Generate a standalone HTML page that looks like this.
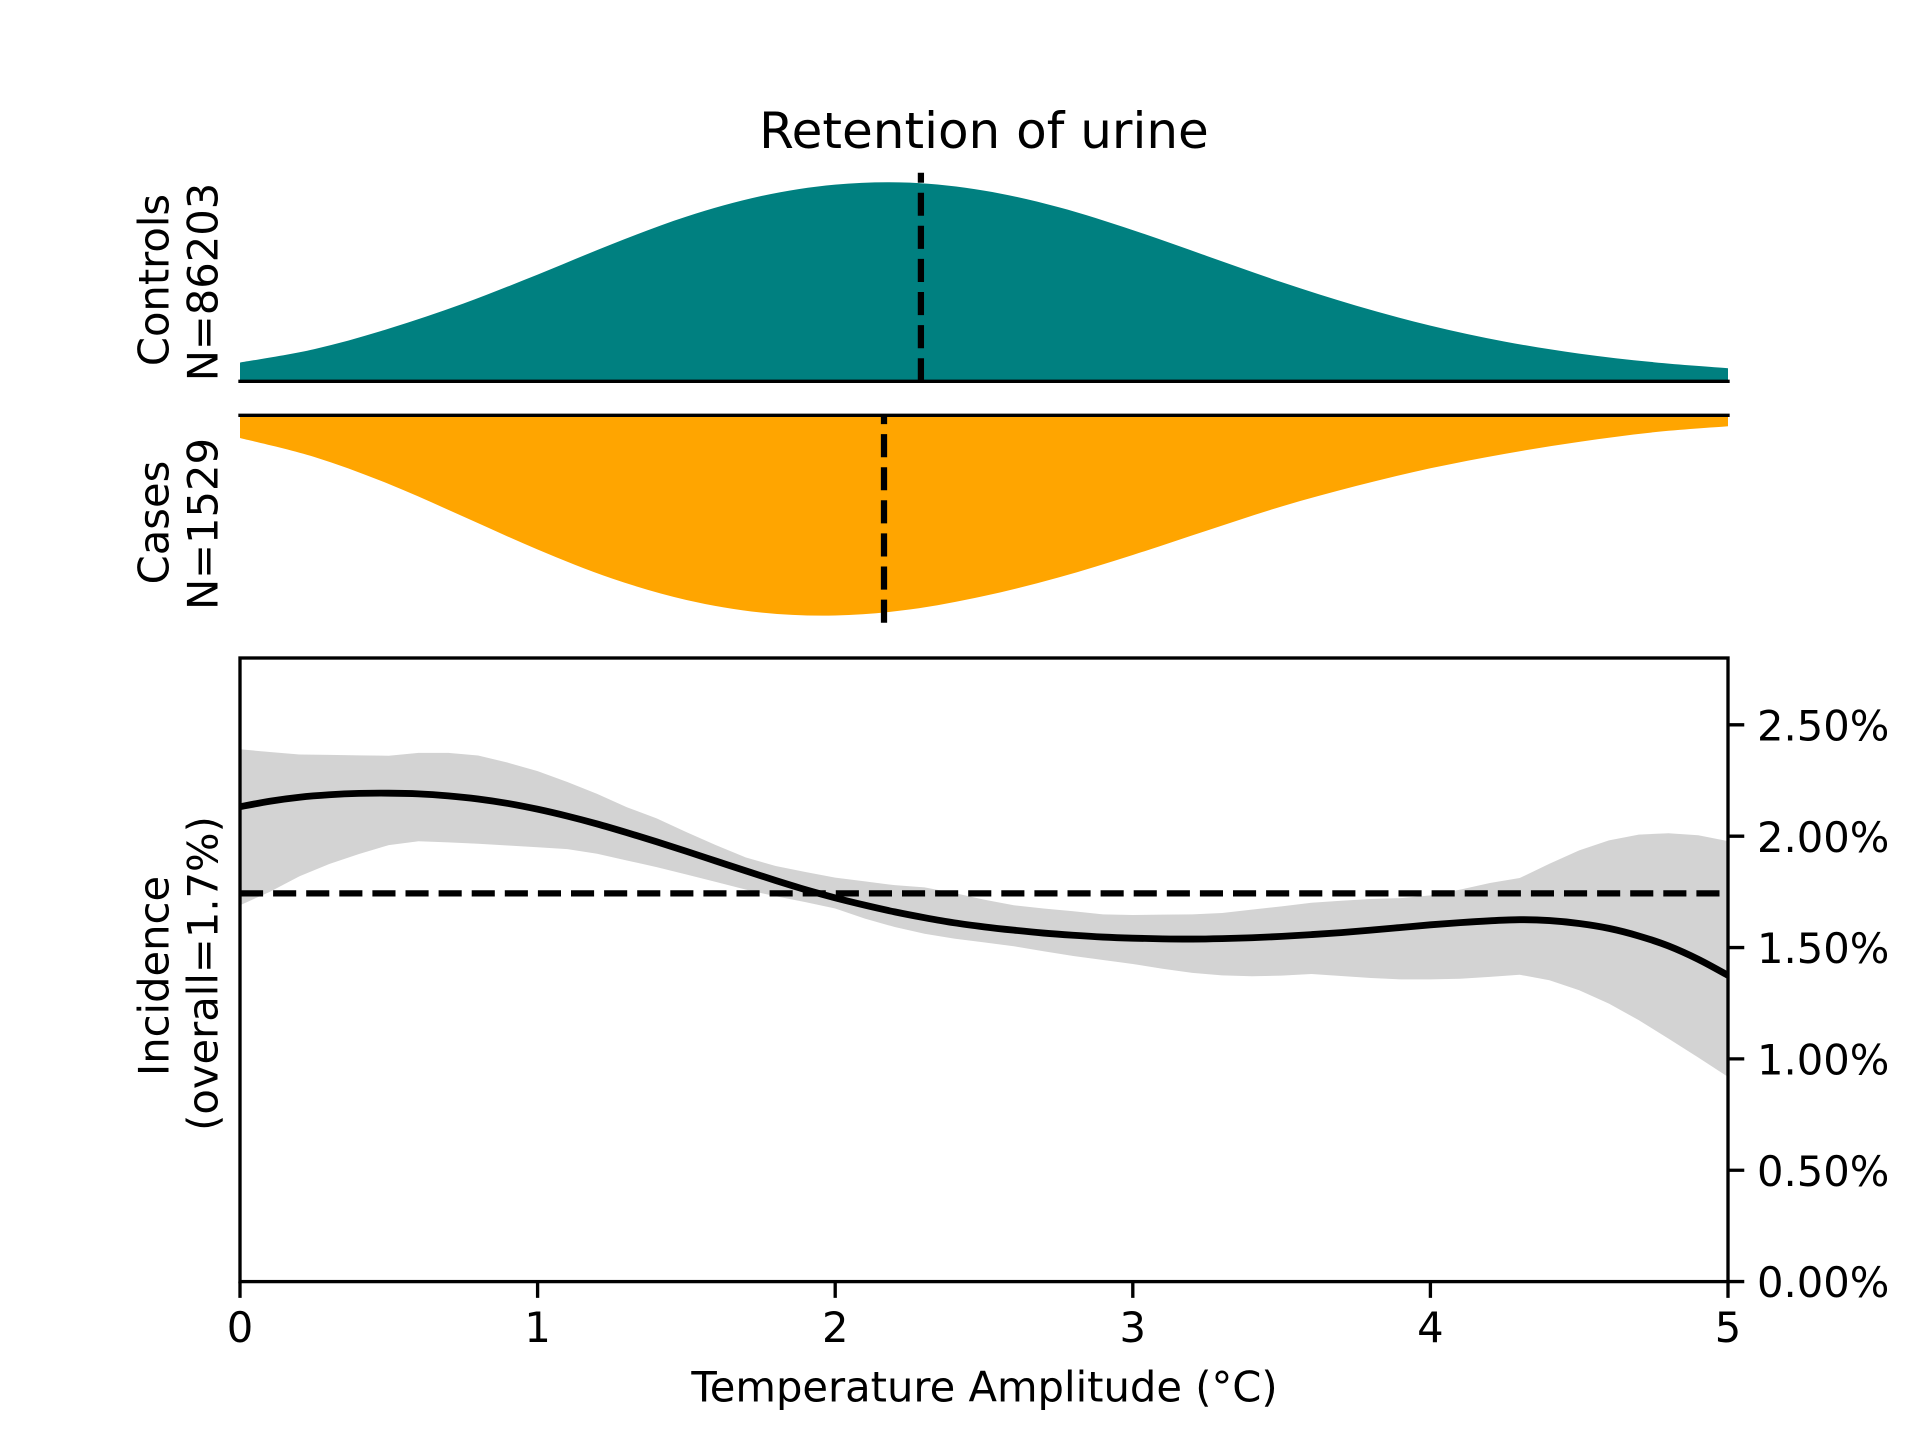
<!DOCTYPE html>
<html lang="en">
<head>
<meta charset="utf-8">
<title>Retention of urine</title>
<style>
html,body{margin:0;padding:0;background:#fff;width:1920px;height:1440px;overflow:hidden}
svg{display:block}
text{font-family:"DejaVu Sans",sans-serif;fill:#000}
</style>
</head>
<body>
<svg id="chart" xmlns="http://www.w3.org/2000/svg" width="1920" height="1440" viewBox="0 0 1920 1440">
  <defs>
    <clipPath id="incidence-clip"><rect x="240" y="658" width="1488" height="623.6"></rect></clipPath>
  </defs>
  <g id="controls-panel"></g>
  <g id="cases-panel"></g>
  <g id="incidence-panel"></g>
  <text x="984" y="148" font-size="50" text-anchor="middle">Retention of urine</text>
  <text transform="translate(168.3,280) rotate(-90)" font-size="41.67" text-anchor="middle">Controls</text>
  <text transform="translate(217.3,282) rotate(-90)" font-size="41.67" text-anchor="middle">N=86203</text>
  <text transform="translate(168.3,522.5) rotate(-90)" font-size="41.67" text-anchor="middle">Cases</text>
  <text transform="translate(217.3,524) rotate(-90)" font-size="41.67" text-anchor="middle">N=1529</text>
  <text transform="translate(168.3,976) rotate(-90)" font-size="41.67" text-anchor="middle">Incidence</text>
  <text transform="translate(217.3,973.5) rotate(-90)" font-size="41.67" text-anchor="middle">(overall=1.7%)</text>
  <text x="984.5" y="1401.5" font-size="41.67" text-anchor="middle">Temperature Amplitude (°C)</text>
</svg>
<script>
const densityGrid = [0,0.25,0.5,0.75,1,1.25,1.5,1.75,2,2.25,2.5,2.75,3,3.25,3.5,3.75,4,4.25,4.5,4.75,5];
const controlsDensity = [0.0377,0.0649,0.1061,0.1565,0.2149,0.2763,0.3317,0.3730,0.3962,0.4002,0.3841,0.3508,0.3045,0.2522,0.1998,0.1525,0.1122,0.0800,0.0558,0.0385,0.0264];
const casesDensity = [0.0460,0.0844,0.1391,0.2049,0.2718,0.3305,0.3740,0.3993,0.4054,0.3933,0.3659,0.3285,0.2829,0.2333,0.1847,0.1432,0.1073,0.0780,0.0537,0.0344,0.0223];
const controlsMedian = 2.288;
const casesMedian = 2.164;
const overallIncidence = 1.743;
const amplitudeGrid = [0,0.1,0.2,0.3,0.4,0.5,0.6,0.7,0.8,0.9,1,1.1,1.2,1.3,1.4,1.5,1.6,1.7,1.8,1.9,2,2.1,2.2,2.3,2.4,2.5,2.6,2.7,2.8,2.9,3,3.1,3.2,3.3,3.4,3.5,3.6,3.7,3.8,3.9,4,4.1,4.2,4.3,4.4,4.5,4.6,4.7,4.8,4.9,5];
const incidenceMean = [2.132,2.157,2.175,2.186,2.192,2.193,2.19,2.181,2.167,2.147,2.121,2.09,2.055,2.016,1.975,1.932,1.888,1.844,1.801,1.76,1.723,1.69,1.66,1.634,1.611,1.593,1.578,1.565,1.555,1.547,1.542,1.539,1.538,1.54,1.544,1.55,1.558,1.567,1.578,1.59,1.602,1.612,1.62,1.625,1.621,1.608,1.586,1.552,1.507,1.447,1.375];
const incidenceUpper = [2.39,2.378,2.367,2.365,2.363,2.361,2.374,2.374,2.362,2.33,2.292,2.243,2.19,2.13,2.08,2.018,1.959,1.904,1.866,1.839,1.814,1.797,1.78,1.77,1.745,1.715,1.69,1.675,1.663,1.649,1.646,1.648,1.649,1.655,1.67,1.685,1.701,1.71,1.718,1.722,1.734,1.76,1.79,1.812,1.876,1.936,1.981,2.007,2.013,2.004,1.978];
const incidenceLower = [1.69,1.75,1.82,1.875,1.92,1.96,1.977,1.972,1.966,1.958,1.95,1.942,1.921,1.891,1.861,1.828,1.794,1.76,1.73,1.704,1.675,1.63,1.592,1.562,1.54,1.523,1.506,1.483,1.462,1.444,1.426,1.405,1.386,1.375,1.371,1.374,1.381,1.372,1.363,1.357,1.357,1.36,1.368,1.378,1.353,1.308,1.248,1.174,1.091,1.006,0.919];
const xTicks = [0,1,2,3,4,5];
const xTickLabels = ["0","1","2","3","4","5"];
const yTicks = [0,0.5,1,1.5,2,2.5];
const yTickLabels = ["0.00%","0.50%","1.00%","1.50%","2.00%","2.50%"];

const SVG_NS = "http://www.w3.org/2000/svg";
const LEFT = 240, RIGHT = 1728;
const CONTROLS_TOP = 172.8, CONTROLS_BOTTOM = 381.3;
const CASES_TOP = 415.3, CASES_BOTTOM = 622.7;
const INC_TOP = 658, INC_BOTTOM = 1281.6;
const DENSITY_MAX = 0.42, INCIDENCE_MAX = 2.8, X_MAX = 5;
const SPINE = 3.33, TICK_LEN = 14.6;
const DASH = "23.1 10";

function xScale(v){ return LEFT + (RIGHT - LEFT) * v / X_MAX; }
function yControls(v){ return CONTROLS_BOTTOM - (CONTROLS_BOTTOM - CONTROLS_TOP) * v / DENSITY_MAX; }
function yCases(v){ return CASES_TOP + (CASES_BOTTOM - CASES_TOP) * v / DENSITY_MAX; }
function yIncidence(v){ return INC_BOTTOM - (INC_BOTTOM - INC_TOP) * v / INCIDENCE_MAX; }

function make(parent, tag){
  const el = document.createElementNS(SVG_NS, tag);
  parent.appendChild(el);
  return el;
}
function setAll(el, props){
  for (const k in props) el.setAttribute(k, props[k]);
  return el;
}
function smoothTo(xs, ys){
  let d = "";
  for (let i = 0; i < xs.length - 1; i++){
    const x0 = xs[Math.max(i-1,0)], y0 = ys[Math.max(i-1,0)];
    const x1 = xs[i], y1 = ys[i], x2 = xs[i+1], y2 = ys[i+1];
    const x3 = xs[Math.min(i+2,xs.length-1)], y3 = ys[Math.min(i+2,xs.length-1)];
    d += " C" + (x1+(x2-x0)/6).toFixed(2) + "," + (y1+(y2-y0)/6).toFixed(2) + " " +
         (x2-(x3-x1)/6).toFixed(2) + "," + (y2-(y3-y1)/6).toFixed(2) + " " +
         x2.toFixed(2) + "," + y2.toFixed(2);
  }
  return d;
}
function densityPath(values, yFn, baseY){
  const xs = densityGrid.map(xScale), ys = values.map(yFn);
  return "M" + LEFT + "," + baseY + " L" + xs[0].toFixed(2) + "," + ys[0].toFixed(2) +
         smoothTo(xs, ys) + " L" + RIGHT + "," + baseY + " Z";
}
function vDash(parent, x, yStart, yEnd){
  return setAll(make(parent, "line"), {x1:x, x2:x, y1:yStart, y2:yEnd, stroke:"#000", "stroke-width":6.25, "stroke-dasharray":DASH});
}
function spine(parent, x1, y1, x2, y2){
  return setAll(make(parent, "line"), {x1:x1, y1:y1, x2:x2, y2:y2, stroke:"#000", "stroke-width":SPINE, "stroke-linecap":"square"});
}

/* Controls panel */
const controlsPanel = document.getElementById("controls-panel");
const controlsArea = setAll(make(controlsPanel, "path"), {d:densityPath(controlsDensity, yControls, CONTROLS_BOTTOM), fill:"#008080"});


const controlsLine = vDash(controlsPanel, xScale(controlsMedian), CONTROLS_BOTTOM, CONTROLS_TOP);


const controlsSpine = spine(controlsPanel, LEFT, CONTROLS_BOTTOM, RIGHT, CONTROLS_BOTTOM);



/* Cases panel */
const casesPanel = document.getElementById("cases-panel");
const casesArea = setAll(make(casesPanel, "path"), {d:densityPath(casesDensity, yCases, CASES_TOP), fill:"#ffa500"});


const casesLine = vDash(casesPanel, xScale(casesMedian), CASES_BOTTOM, CASES_TOP);


const casesSpine = spine(casesPanel, LEFT, CASES_TOP, RIGHT, CASES_TOP);



/* Incidence panel */
const incidencePanel = document.getElementById("incidence-panel");
const upperPts = amplitudeGrid.map((a,i) => xScale(a).toFixed(2) + "," + yIncidence(incidenceUpper[i]).toFixed(2));
const lowerPts = amplitudeGrid.map((a,i) => xScale(a).toFixed(2) + "," + yIncidence(incidenceLower[i]).toFixed(2)).reverse();
const band = setAll(make(incidencePanel, "polygon"), {points:upperPts.concat(lowerPts).join(" "), fill:"#d3d3d3"});


const meanLine = setAll(make(incidencePanel, "path"), {
  d:"M" + xScale(amplitudeGrid[0]).toFixed(2) + "," + yIncidence(incidenceMean[0]).toFixed(2) + smoothTo(amplitudeGrid.map(xScale), incidenceMean.map(yIncidence)),
  fill:"none", stroke:"#000", "stroke-width":6.8, "stroke-linejoin":"round", "clip-path":"url(#incidence-clip)"
});


const overallLine = setAll(make(incidencePanel, "line"), {
  x1:LEFT, x2:RIGHT, y1:yIncidence(overallIncidence), y2:yIncidence(overallIncidence),
  stroke:"#000", "stroke-width":6.25, "stroke-dasharray":DASH
});



xTicks.forEach((t,i) => {
  const mark = setAll(make(incidencePanel, "line"), {x1:xScale(t), x2:xScale(t), y1:INC_BOTTOM, y2:INC_BOTTOM + TICK_LEN + SPINE/2, stroke:"#000", "stroke-width":SPINE});
  
  
  const label = setAll(make(incidencePanel, "text"), {x:xScale(t), y:1342, "font-size":41.67, "text-anchor":"middle"});
  label.textContent = xTickLabels[i];
  
  
});
yTicks.forEach((t,i) => {
  const mark = setAll(make(incidencePanel, "line"), {x1:RIGHT, x2:RIGHT + TICK_LEN + SPINE/2, y1:yIncidence(t), y2:yIncidence(t), stroke:"#000", "stroke-width":SPINE});
  
  
  const label = setAll(make(incidencePanel, "text"), {x:1757, y:yIncidence(t) + 15.6, "font-size":41.67});
  label.textContent = yTickLabels[i];
  
  
});
const frame = setAll(make(incidencePanel, "rect"), {x:LEFT, y:INC_TOP, width:RIGHT-LEFT, height:INC_BOTTOM-INC_TOP, fill:"none", stroke:"#000", "stroke-width":SPINE});


</script>
</body>
</html>
